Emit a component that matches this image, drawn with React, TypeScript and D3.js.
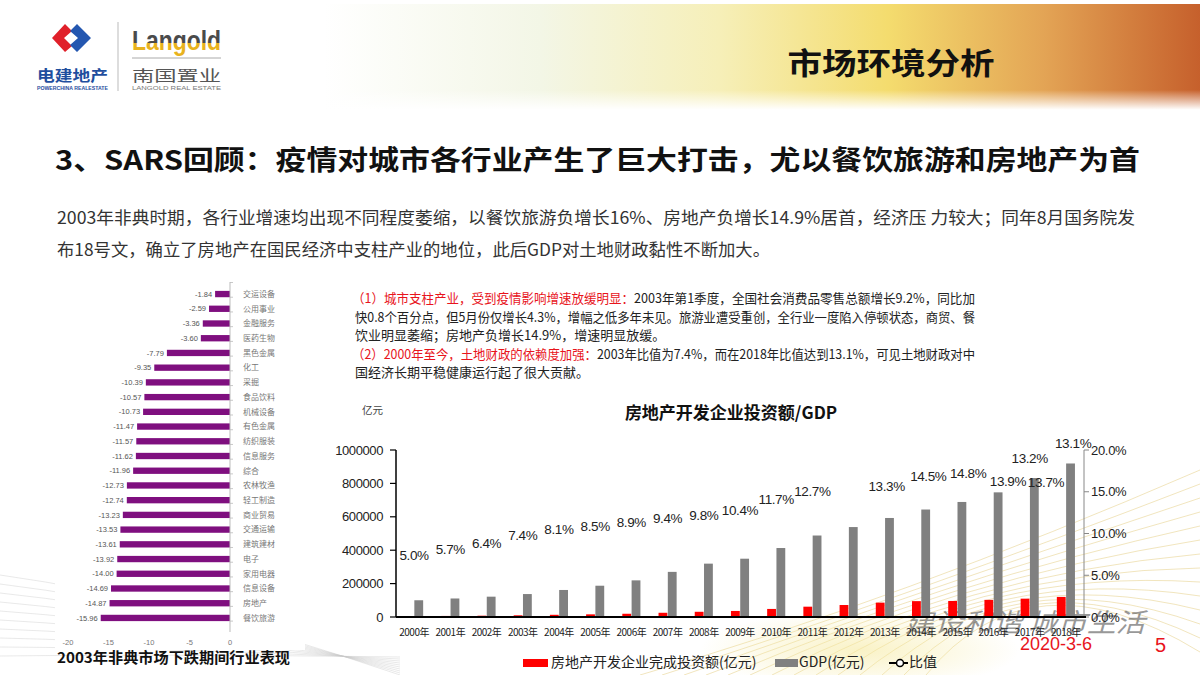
import React from 'react';
import * as d3 from 'd3';

// ---- chart data ----
const years = ['2000年', '2001年', '2002年', '2003年', '2004年', '2005年', '2006年', '2007年', '2008年', '2009年',
  '2010年', '2011年', '2012年', '2013年', '2014年', '2015年', '2016年', '2017年', '2018年'];
const investment = [4984, 6344, 7791, 10154, 13158, 15909, 19423, 25289, 31203, 36242,
  48259, 61797, 71804, 86013, 95036, 95979, 102581, 109799, 120264];
const gdp = [100280, 110863, 121717, 137422, 161840, 187319, 219439, 270232, 319516, 349081,
  413030, 487940, 538580, 592963, 643563, 688858, 746395, 832036, 919281];
const ratio = [5.0, 5.7, 6.4, 7.4, 8.1, 8.5, 8.9, 9.4, 9.8, 10.4, 11.7, 12.7, 13.3, 14.5, 14.8, 13.9, 13.7, 13.2, 13.1];
const leftTicks = [0, 200000, 400000, 600000, 800000, 1000000];
const rightTicks = [0, 5, 10, 15, 20];

const industries = ['交运设备', '公用事业', '金融服务', '医药生物', '黑色金属', '化工', '采掘', '食品饮料', '机械设备',
  '有色金属', '纺织服装', '信息服务', '综合', '农林牧渔', '轻工制造', '商业贸易', '交通运输', '建筑建材', '电子',
  '家用电器', '信息设备', '房地产', '餐饮旅游'];
const industryChange = [-1.84, -2.59, -3.36, -3.60, -7.79, -9.35, -10.39, -10.57, -10.73, -11.47, -11.57, -11.62,
  -11.96, -12.73, -12.74, -13.23, -13.53, -13.61, -13.92, -14.00, -14.69, -14.87, -15.96];
const industryTicks = [-20, -15, -10, -5, 0];

const CJK = '"Noto Sans CJK SC", "Noto Sans", sans-serif';
const LAT = '"Liberation Sans", Arial, sans-serif';

// label nudges (in band widths) as placed on the original slide
const LABEL_SHIFT = [0, 0, 0, 0, 0, 0, 0, 0, 0, 0, 0, 0, 1.05, 1.2, 1.3, 1.4, 1.45, 0, 0.2];

function RightChart() {
  const x = d3.scaleBand<string>().domain(years).range([396, 1084]);
  const bw = x.bandwidth();
  const sub = d3.scaleBand<string>().domain(['inv', 'gdp']).range([bw * 0.25, bw * 0.75]).paddingInner(0.05);
  const yL = d3.scaleLinear().domain([0, 1000000]).range([617, 450]);
  const yR = d3.scaleLinear().domain([0, 20]).range([617, 450]);
  const fmtPct = d3.format('.1f');

  return (
    <g>
      <text x={731} y={419} textAnchor="middle" fontFamily={CJK} fontWeight={700} fontSize={17} fill="#111">房地产开发企业投资额/GDP</text>
      <text x={362} y={414} fontFamily={CJK} fontSize={10.5} fill="#444">亿元</text>

      {years.map((yr, i) => (
        <g key={yr}>
          <rect x={(x(yr) || 0) + (sub('inv') || 0)} y={yL(investment[i])} width={sub.bandwidth()}
            height={yL(0) - yL(investment[i])} fill="#ff0000" />
          <rect x={(x(yr) || 0) + (sub('gdp') || 0)} y={yL(gdp[i])} width={sub.bandwidth()}
            height={yL(0) - yL(gdp[i])} fill="#808080" />
        </g>
      ))}

      {/* left axis */}
      <line x1={396} x2={396} y1={yL(1000000)} y2={yL(0)} stroke="#000" strokeWidth={1.5} />
      {leftTicks.map(t => (
        <g key={t}>
          <line x1={390} x2={396} y1={yL(t)} y2={yL(t)} stroke="#000" strokeWidth={1.2} />
          <text x={383} y={yL(t)} dy="0.35em" textAnchor="end" fontFamily={LAT} fontSize={13} letterSpacing={-0.4} fill="#222">{t}</text>
        </g>
      ))}

      {/* right axis */}
      <line x1={1084} x2={1084} y1={yR(20)} y2={yR(0)} stroke="#888" strokeWidth={1} />
      {rightTicks.map(t => (
        <g key={t}>
          <line x1={1084} x2={1089} y1={yR(t)} y2={yR(t)} stroke="#888" strokeWidth={1} />
          <text x={1091} y={yR(t)} dy="0.35em" fontFamily={LAT} fontSize={13} letterSpacing={-0.3} fill="#222">{fmtPct(t)}%</text>
        </g>
      ))}

      {/* category axis */}
      <line x1={396} x2={1086} y1={yL(0)} y2={yL(0)} stroke="#000" strokeWidth={2} />
      {years.map(yr => (
        <text key={yr} x={(x(yr) || 0) + bw / 2} y={636} textAnchor="middle" fontFamily={CJK} fontSize={10}
          letterSpacing={-0.5} fill="#222">{yr}</text>
      ))}

      {/* ratio labels */}
      {years.map((yr, i) => {
        const cx = (x(yr) || 0) + bw / 2 + LABEL_SHIFT[i] * bw;
        let cy = yR(ratio[i]) - 20;
        const barTop = yL(gdp[i]);
        if (LABEL_SHIFT[i] < 0.5 && cy + 7 > barTop - 2) cy = barTop - 20;
        return (
          <text key={yr} x={cx} y={cy} dy="0.35em" textAnchor="middle" fontFamily={LAT} fontSize={13.5}
            letterSpacing={-0.4} fill="#222">{fmtPct(ratio[i])}%</text>
        );
      })}

      {/* legend */}
      <rect x={523} y={659} width={25} height={8} fill="#ff0000" />
      <text x={551} y={667} fontFamily={CJK} fontSize={14} fill="#222">房地产开发企业完成投资额(亿元)</text>
      <rect x={775} y={659} width={23} height={8} fill="#808080" />
      <text x={799} y={667} fontFamily={CJK} fontSize={14} fill="#222">GDP(亿元)</text>
      <line x1={889} x2={908} y1={663} y2={663} stroke="#000" strokeWidth={2} />
      <circle cx={900} cy={663} r={3.5} fill="#fff" stroke="#000" strokeWidth={1.5} />
      <text x={909} y={667} fontFamily={CJK} fontSize={14} fill="#222">比值</text>
    </g>
  );
}

function IndustryChart() {
  const xi = d3.scaleLinear().domain([-20, 0]).range([68, 230]);
  const yi = d3.scaleBand<string>().domain(industries).range([282.5, 629.5]).padding(0.57);
  const step = yi.step();
  return (
    <g>
      <rect x={55} y={278} width={250} height={372} fill="#fff" />
      {industries.map((name, i) => {
        const yy = yi(name) || 0;
        const v = industryChange[i];
        return (
          <g key={name}>
            <rect x={xi(v)} y={yy} width={xi(0) - xi(v)} height={yi.bandwidth()} fill="#7f0f7f" />
            <text x={xi(v) - 3} y={yy + yi.bandwidth() / 2} dy="0.35em" textAnchor="end" fontFamily={LAT}
              fontSize={7.5} fill="#555">{v.toFixed(2)}</text>
            <text x={243} y={yy + yi.bandwidth() / 2} dy="0.35em" fontFamily={CJK} fontSize={8}
              fill="#777">{name}</text>
          </g>
        );
      })}
      <line x1={xi(0)} x2={xi(0)} y1={282} y2={632} stroke="#bbb" strokeWidth={1} />
      {d3.range(industries.length + 1).map(k => (
        <line key={k} x1={xi(0)} x2={xi(0) + 3} y1={282.5 + k * step} y2={282.5 + k * step} stroke="#bbb" strokeWidth={0.8} />
      ))}
      {industryTicks.map(t => (
        <text key={t} x={xi(t)} y={642} dy="0.35em" textAnchor="middle" fontFamily={LAT} fontSize={7.5} fill="#777">{t}</text>
      ))}
      <text x={57} y={663} fontFamily={CJK} fontWeight={700} fontSize={14.5} fill="#111" textLength={233}
        lengthAdjust="spacingAndGlyphs">2003年非典市场下跌期间行业表现</text>
    </g>
  );
}

function Decorations() {
  const gold = d3.range(14).map(k => {
    const p = d3.path();
    p.moveTo(640 + k * 22, 675);
    p.quadraticCurveTo(900 + k * 10, 600 - k * 4, 1200, 470 + k * 14);
    return p.toString();
  });
  const grey = d3.range(10).map(k => {
    const p = d3.path();
    p.moveTo(0, 575 + k * 9);
    p.quadraticCurveTo(180, 600 + k * 6, 400, 675 - k * 2);
    return p.toString();
  });
  return (
    <g>
      {gold.map((d, k) => <path key={'g' + k} d={d} fill="none" stroke="#d9b64a" strokeWidth={0.8} opacity={0.45} />)}
      {grey.map((d, k) => <path key={'s' + k} d={d} fill="none" stroke="#c8c8c8" strokeWidth={0.8} opacity={0.5} />)}
      <ellipse cx={860} cy={650} rx={160} ry={40} fill="url(#glow)" />
      {/* background watermark slogan */}
      <text x={905} y={632} fontFamily={CJK} fontStyle="italic" fontSize={26} fill="#333" opacity={0.5}
        textLength={240} lengthAdjust="spacingAndGlyphs">建设和谐 城市生活</text>
    </g>
  );
}

function Header() {
  return (
    <g>
      <rect x={0} y={4} width={1200} height={106} fill="url(#hdr)" />
      <rect x={0} y={90} width={1200} height={22} fill="url(#hdrFade)" />
      {/* logo */}
      <path d="M52,38 L65,24 L72,31 L64,38 L72,46 L65,52 Z" fill="#e0202a" />
      <path d="M77,24 L91,38 L77,52 L70,45 L78,38 L70,31 Z" fill="#2457b0" />
      <text x={37} y={81} fontFamily={CJK} fontWeight={700} fontSize={15} fill="#1f4e9e" textLength={71}
        lengthAdjust="spacingAndGlyphs">电建地产</text>
      <text x={37} y={90} fontFamily={LAT} fontWeight={700} fontSize={4.5} fill="#1f4e9e" textLength={71}
        lengthAdjust="spacingAndGlyphs">POWERCHINA REALESTATE</text>
      <line x1={118} x2={118} y1={22} y2={91} stroke="#bbb" strokeWidth={1} />
      <text x={132} y={50} fontFamily={LAT} fontWeight={700} fontSize={27} fill="url(#goldTxt)" textLength={89}
        lengthAdjust="spacingAndGlyphs">Langold</text>
      <line x1={132} x2={221} y1={58} y2={58} stroke="#aaa" strokeWidth={1} />
      <text x={132} y={81} fontFamily={CJK} fontSize={15} fill="#555" textLength={89}
        lengthAdjust="spacingAndGlyphs">南国置业</text>
      <text x={132} y={90} fontFamily={LAT} fontSize={4.5} fill="#777" textLength={89}
        lengthAdjust="spacingAndGlyphs">LANGOLD REAL ESTATE</text>
      <text x={891} y={74} textAnchor="middle" fontFamily={CJK} fontWeight={700} fontSize={30} fill="#111"
        textLength={207} lengthAdjust="spacingAndGlyphs">市场环境分析</text>
    </g>
  );
}

export default function App() {
  return (
    <div style={{ position: 'absolute', left: 0, top: 0, width: 1200, height: 675 }}>
      <svg width={1200} height={675} viewBox="0 0 1200 675" style={{ display: 'block' }}>
        <defs>
          <linearGradient id="hdr" x1="0" x2="1" y1="0" y2="0">
            <stop offset="0" stopColor="#ffffff" />
            <stop offset="0.27" stopColor="#ffffff" />
            <stop offset="0.45" stopColor="#f3f6e6" />
            <stop offset="0.6" stopColor="#f6efb8" />
            <stop offset="0.74" stopColor="#f4dc6e" />
            <stop offset="0.87" stopColor="#e3a455" />
            <stop offset="1" stopColor="#c6602c" />
          </linearGradient>
          <linearGradient id="hdrFade" x1="0" x2="0" y1="0" y2="1">
            <stop offset="0" stopColor="#fff" stopOpacity={0} />
            <stop offset="0.9" stopColor="#fff" stopOpacity={1} />
          </linearGradient>
          <linearGradient id="goldTxt" x1="0" x2="0" y1="0" y2="1">
            <stop offset="0" stopColor="#4a4a4a" />
            <stop offset="0.58" stopColor="#4a4a4a" />
            <stop offset="0.58" stopColor="#e8b21e" />
            <stop offset="1" stopColor="#e8b21e" />
          </linearGradient>
          <radialGradient id="glow">
            <stop offset="0" stopColor="#f6eaa0" stopOpacity={0.6} />
            <stop offset="1" stopColor="#f6eaa0" stopOpacity={0} />
          </radialGradient>
        </defs>
        <rect width={1200} height={675} fill="#fff" />
        <Decorations />
        <Header />

        <text x={55} y={170} fontFamily={CJK} fontWeight={700} fontSize={27} fill="#111" textLength={1085}
          lengthAdjust="spacingAndGlyphs">3、SARS回顾：疫情对城市各行业产生了巨大打击，尤以餐饮旅游和房地产为首</text>

        <text x={57} y={224} fontFamily={CJK} fontSize={17} fill="#333" textLength={1078} lengthAdjust="spacingAndGlyphs">
          2003年非典时期，各行业增速均出现不同程度萎缩，以餐饮旅游负增长16%、房地产负增长14.9%居首，经济压 力较大；同年8月国务院发</text>
        <text x={57} y={256} fontFamily={CJK} fontSize={17} fill="#333" textLength={713} lengthAdjust="spacingAndGlyphs">
          布18号文，确立了房地产在国民经济中支柱产业的地位，此后GDP对土地财政黏性不断加大。</text>

        <g fontFamily={CJK} fontSize={13}>
          <text x={352} y={303} fill="#e8141c" textLength={282} lengthAdjust="spacingAndGlyphs">（1）城市支柱产业，受到疫情影响增速放缓明显：</text>
          <text x={634} y={303} fill="#222" textLength={341} lengthAdjust="spacingAndGlyphs">2003年第1季度，全国社会消费品零售总额增长9.2%，同比加</text>
          <text x={355} y={322} fill="#222" textLength={620} lengthAdjust="spacingAndGlyphs">快0.8个百分点，但5月份仅增长4.3%，增幅之低多年未见。旅游业遭受重创，全行业一度陷入停顿状态，商贸、餐</text>
          <text x={355} y={340} fill="#222">饮业明显萎缩；房地产负增长14.9%，增速明显放缓。</text>
          <text x={352} y={359} fill="#e8141c" textLength={245} lengthAdjust="spacingAndGlyphs">（2）2000年至今，土地财政的依赖度加强：</text>
          <text x={597} y={359} fill="#222" textLength={378} lengthAdjust="spacingAndGlyphs">2003年比值为7.4%，而在2018年比值达到13.1%，可见土地财政对中</text>
          <text x={355} y={377} fill="#222">国经济长期平稳健康运行起了很大贡献。</text>
        </g>

        <IndustryChart />
        <RightChart />

        <text x={1020} y={650} fontFamily={LAT} fontSize={18} fill="#e8141c">2020-3-6</text>
        <text x={1155} y={652} fontFamily={LAT} fontSize={20} fill="#e8141c">5</text>
      </svg>
    </div>
  );
}
